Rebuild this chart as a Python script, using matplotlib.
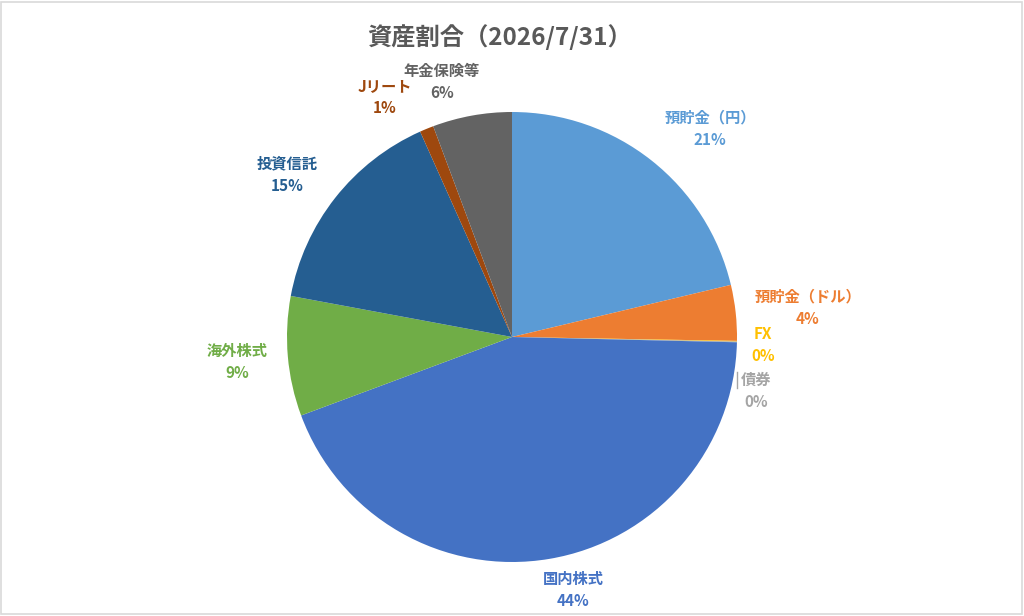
import matplotlib
matplotlib.use("Agg")
import matplotlib.pyplot as plt
from matplotlib.patches import Rectangle

plt.rcParams['font.family'] = ['Noto Sans CJK JP', 'DejaVu Sans']

# data (percent of total)
labels = ['預貯金（円）', '預貯金（ドル）', 'FX', '債券', '国内株式',
          '海外株式', '投資信託', 'Jリート', '年金保険等']
values = [21.3, 4.0, 0.05, 0.05, 44.0, 8.6, 15.4, 1.0, 5.7]
colors = ['#5B9BD5', '#ED7D31', '#FFC000', '#A5A5A5', '#4472C4',
          '#70AD47', '#255E91', '#9E480E', '#636363']

# label anchor positions in pixels (x, y from top)
label_pos = [(710, 129), (808, 308), (763, 345), (756, 391), (573, 590),
             (237, 362), (287, 175), (385, 97), (442, 82)]

W, H = 1024, 616
fig = plt.figure(figsize=(W / 100, H / 100), dpi=100)
ax = fig.add_axes([0, 0, 1, 1])

cx, cy, r = 512, H - 337, 225
ax.pie(values, colors=colors, startangle=90, counterclock=False,
       center=(cx, cy), radius=r, frame=True,
       wedgeprops=dict(linewidth=0))
ax.set_xlim(0, W)
ax.set_ylim(0, H)
ax.set_aspect('equal')
ax.axis('off')

total = sum(values)
for lab, v, c, (x, y) in zip(labels, values, colors, label_pos):
    pct = '%d%%' % round(v / total * 100)
    ax.text(x, H - y, lab + '\n' + pct, color=c, fontsize=11,
            fontweight='bold', ha='center', va='center', linespacing=1.5)

# leader line for 債券
ax.plot([737, 737], [H - 372, H - 388], color='#A5A5A5', lw=1)

ax.text(500, H - 37, '資産割合（2026/7/31）', fontsize=17.5, fontweight='bold',
        color='#595959', ha='center', va='center')

ax.add_patch(Rectangle((1, 2), W - 3, H - 4, fill=False,
                       edgecolor='#D9D9D9', lw=1.2))

fig.savefig('out.png', dpi=100)
